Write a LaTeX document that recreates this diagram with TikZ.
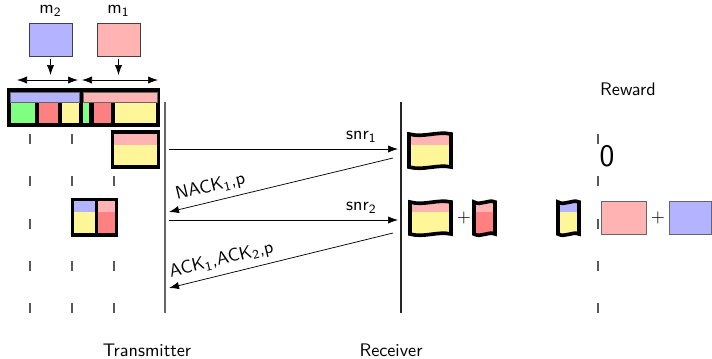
\documentclass[tikz,border=0pt]{standalone}
\usetikzlibrary{arrows.meta}

\definecolor{lblue}{RGB}{179,179,255}
\definecolor{lpink}{RGB}{255,179,179}
\definecolor{lgreen}{RGB}{128,255,128}
\definecolor{lred}{RGB}{255,128,128}
\definecolor{lyellow}{RGB}{255,245,153}

\tikzset{
  >={Latex[length=5.5pt, width=4pt]},
  timetick/.style={black!65, line width=0.8pt, dash pattern=on 5.5pt off 17.74pt},
  lifeline/.style={black!60, line width=0.9pt},
  mbox/.style={draw=black!75, minimum width=23.6pt, minimum height=18.2pt, inner sep=0pt},
  rbox/.style={draw=black!60, fill=#1},
}

% received block with wavy top and bottom: x1, y1, x2, ysplit, y2, upper, lower
\newcommand{\wavebox}[7]{%
  \begin{scope}
    \clip (#1,#2) .. controls ({(2*#1+#3)/3},{#2+4}) and ({(#1+2*#3)/3},{#2-3}) .. (#3,#2)
      -- (#3,#5) .. controls ({(#1+2*#3)/3},{#5-3}) and ({(2*#1+#3)/3},{#5+4}) .. (#1,#5) -- cycle;
    \fill[#6] (#1,#2-8) rectangle (#3,#4);
    \fill[#7] (#1,#4) rectangle (#3,#5+8);
  \end{scope}
  \draw[line width=2pt] (#1,#2) .. controls ({(2*#1+#3)/3},{#2+4}) and ({(#1+2*#3)/3},{#2-3}) .. (#3,#2)
      -- (#3,#5) .. controls ({(#1+2*#3)/3},{#5-3}) and ({(2*#1+#3)/3},{#5+4}) .. (#1,#5) -- cycle;
}

\begin{document}
\begin{tikzpicture}[x=0.55pt, y=-0.55pt, font=\sffamily]
  \useasboundingbox (0,0) rectangle (712,358);

  \draw[timetick] (30,134) -- (30,313);
  \draw[timetick] (72,134) -- (72,313);
  \draw[timetick] (114,134) -- (114,313);
  \draw[timetick] (598,134) -- (598,313);

  \draw[lifeline] (165,102) -- (165,313);
  \draw[lifeline, black!85] (401,102) -- (401,313);

  \node[mbox, fill=lblue, label={above:m\textsubscript{2}}] (m2) at (50.5,39.5) {};
  \node[mbox, fill=lpink, label={above:m\textsubscript{1}}] (m1) at (118.5,39.5) {};
  \coordinate (m2in) at (50.5,75);
  \coordinate (m1in) at (118.5,75);
  \draw[->, shorten <=1.5pt] (m2) -- (m2in);
  \draw[->, shorten <=1.5pt] (m1) -- (m1in);

  \coordinate (seg2l) at (17,80);
  \coordinate (seg2r) at (78,80);
  \coordinate (seg1l) at (82,80);
  \coordinate (seg1r) at (158,80);
  \draw[<->] (seg2l) -- (seg2r);
  \draw[<->] (seg1l) -- (seg1r);

  % transmit buffer
  \fill (7,88) rectangle (160,127);
  \fill[lblue, draw=black!60, thin] (10,92) rectangle (79,102);
  \fill[lpink, draw=black!60, thin] (83,92) rectangle (157,102);
  \fill[lgreen] (11,103) rectangle (35,123);
  \fill[lred] (39,103) rectangle (58,123);
  \fill[lyellow] (62,103) rectangle (79,123);
  \fill[lgreen] (83,103) rectangle (89,123);
  \fill[lred] (94,103) rectangle (111,123);
  \fill[lyellow] (115,103) rectangle (156,123);

  % sent packets
  \fill (111,130) rectangle (160,169);
  \fill[lpink] (114,134) rectangle (157,145);
  \fill[lyellow] (114,145) rectangle (157,165);

  \fill (71,198) rectangle (118,237);
  \fill[lblue] (74,201) rectangle (95,212);
  \fill[lyellow] (74,212) rectangle (95,233);
  \fill[lpink] (98,201) rectangle (115,212);
  \fill[lred] (98,212) rectangle (115,233);

  % received packets
  \wavebox{409}{134}{451}{145}{167}{lpink}{lyellow}
  \wavebox{410}{202}{451}{212}{234}{lpink}{lyellow}
  \node (plus1) at (464,218) {+};
  \wavebox{474}{202}{495}{212}{234}{lpink}{lred}
  \wavebox{558}{202}{579}{212}{234}{lblue}{lyellow}

  \node[font=\LARGE\sffamily] (r0) at (607,156) {0};
  \draw[rbox=lpink] (601,201) rectangle (646,234);
  \node (plus2) at (658,218) {+};
  \draw[rbox=lblue] (669,201) rectangle (711,234);

  \coordinate (tx1) at (169,149);
  \coordinate (rx1) at (398,149);
  \coordinate (rx2) at (393,158);
  \coordinate (tx2) at (169,212);
  \coordinate (tx3) at (169,220);
  \coordinate (rx3) at (398,220);
  \coordinate (rx4) at (393,233);
  \coordinate (tx4) at (169,288);
  \draw[->] (tx1) -- (rx1) node[pos=0.84, above] {snr\textsubscript{1}};
  \draw[->] (rx2) -- (tx2) node[pos=0.8, sloped, above] {NACK\textsubscript{1},p};
  \draw[->] (tx3) -- (rx3) node[pos=0.84, above] {snr\textsubscript{2}};
  \draw[->] (rx4) -- (tx4) node[pos=0.75, sloped, above] {ACK\textsubscript{1},ACK\textsubscript{2},p};

  \node (tx) at (147,350) {Transmitter};
  \node (rx) at (391,350) {Receiver};
  \node (rew) at (628,89) {Reward};
\end{tikzpicture}
\end{document}
